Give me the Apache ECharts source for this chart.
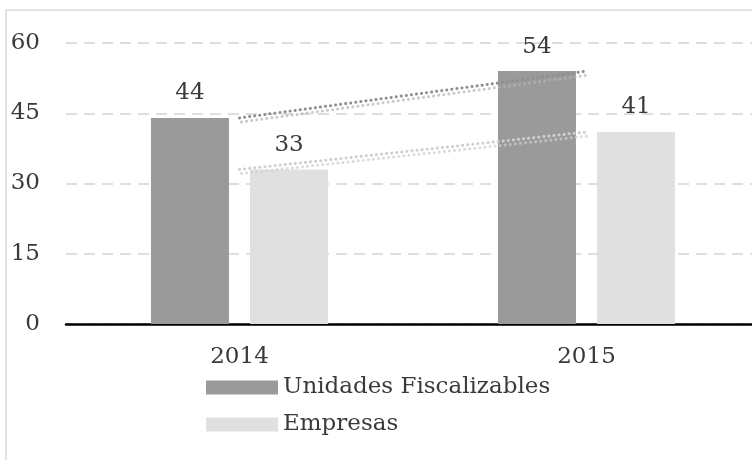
<!DOCTYPE html>
<html>
<head>
<meta charset="utf-8">
<script src="https://cdn.jsdelivr.net/npm/echarts@6/dist/echarts.min.js"></script>
<style>
  html, body { margin: 0; padding: 0; background: #fff; }
  #chart { width: 752px; height: 460px; }
</style>
</head>
<body>
<div id="chart"></div>
<script>
// Years on the category axis
const years = ['2014', '2015'];
// Series values
const unidades = [44, 54];
const empresas = [33, 41];
// Value axis ticks
const yMin = 0, yMax = 60, yStep = 15;

const FONT = 'DejaVu Serif';
const FS = 23;
const TEXT = '#3a3a3a';
const DARK = '#9a9a9a';
const LIGHT = '#e0e0e0';

const chart = echarts.init(document.getElementById('chart'), null, { renderer: 'canvas' });

const valueLabel = {
  show: true,
  position: 'top',
  distance: 13,
  fontFamily: FONT,
  fontSize: FS,
  color: TEXT
};

chart.setOption({
  animation: false,
  backgroundColor: '#fff',
  graphic: [
    // outer frame (top and left edges)
    { type: 'line', shape: { x1: 6, y1: 10, x2: 752, y2: 10 }, style: { stroke: '#d9d9d9', lineWidth: 1.5 } },
    { type: 'line', shape: { x1: 6, y1: 10, x2: 6, y2: 460 }, style: { stroke: '#d9d9d9', lineWidth: 1.5 } }
  ],
  // plot area runs a little past the right edge of the canvas
  grid: { left: 66, width: 694, top: 43, height: 281, containLabel: false, outerBoundsMode: 'none' },
  legend: {
    data: ['Unidades Fiscalizables', 'Empresas'],
    orient: 'vertical',
    left: 201,
    top: 371,
    itemWidth: 72,
    itemHeight: 14,
    itemGap: 14,
    icon: 'rect',
    textStyle: { fontFamily: FONT, fontSize: FS, color: TEXT }
  },
  xAxis: {
    type: 'category',
    data: years,
    axisLine: { lineStyle: { color: '#000', width: 2.5 } },
    axisTick: { show: false },
    axisLabel: { fontFamily: FONT, fontSize: FS, color: TEXT, margin: 22 }
  },
  yAxis: {
    type: 'value',
    min: yMin,
    max: yMax,
    interval: yStep,
    axisLine: { show: false },
    axisTick: { show: false },
    axisLabel: { fontFamily: FONT, fontSize: FS, color: TEXT, margin: 26 },
    splitLine: { lineStyle: { color: '#dedede', width: 2, type: [11, 7] } }
  },
  series: [
    {
      name: 'Unidades Fiscalizables',
      type: 'bar',
      data: unidades,
      barWidth: 78,
      barGap: '27%',
      itemStyle: { color: DARK },
      label: valueLabel,
      z: 2
    },
    {
      name: 'Empresas',
      type: 'bar',
      data: empresas,
      barWidth: 78,
      itemStyle: { color: LIGHT },
      label: valueLabel,
      z: 2
    },
    // dotted linear trend lines for each series
    {
      name: 'trend-unidades',
      type: 'line',
      data: unidades,
      symbol: 'none',
      silent: true,
      z: 5,
      lineStyle: {
        color: '#8f8f8f', width: 3, type: [0.1, 5], cap: 'round',
        shadowColor: 'rgba(180,180,180,0.7)', shadowOffsetX: 2, shadowOffsetY: 4, shadowBlur: 0
      }
    },
    {
      name: 'trend-empresas',
      type: 'line',
      data: empresas,
      symbol: 'none',
      silent: true,
      z: 5,
      lineStyle: {
        color: '#cfcfcf', width: 3, type: [0.1, 5], cap: 'round',
        shadowColor: 'rgba(205,205,205,0.7)', shadowOffsetX: 2, shadowOffsetY: 4, shadowBlur: 0
      }
    }
  ]
});
</script>
</body>
</html>
